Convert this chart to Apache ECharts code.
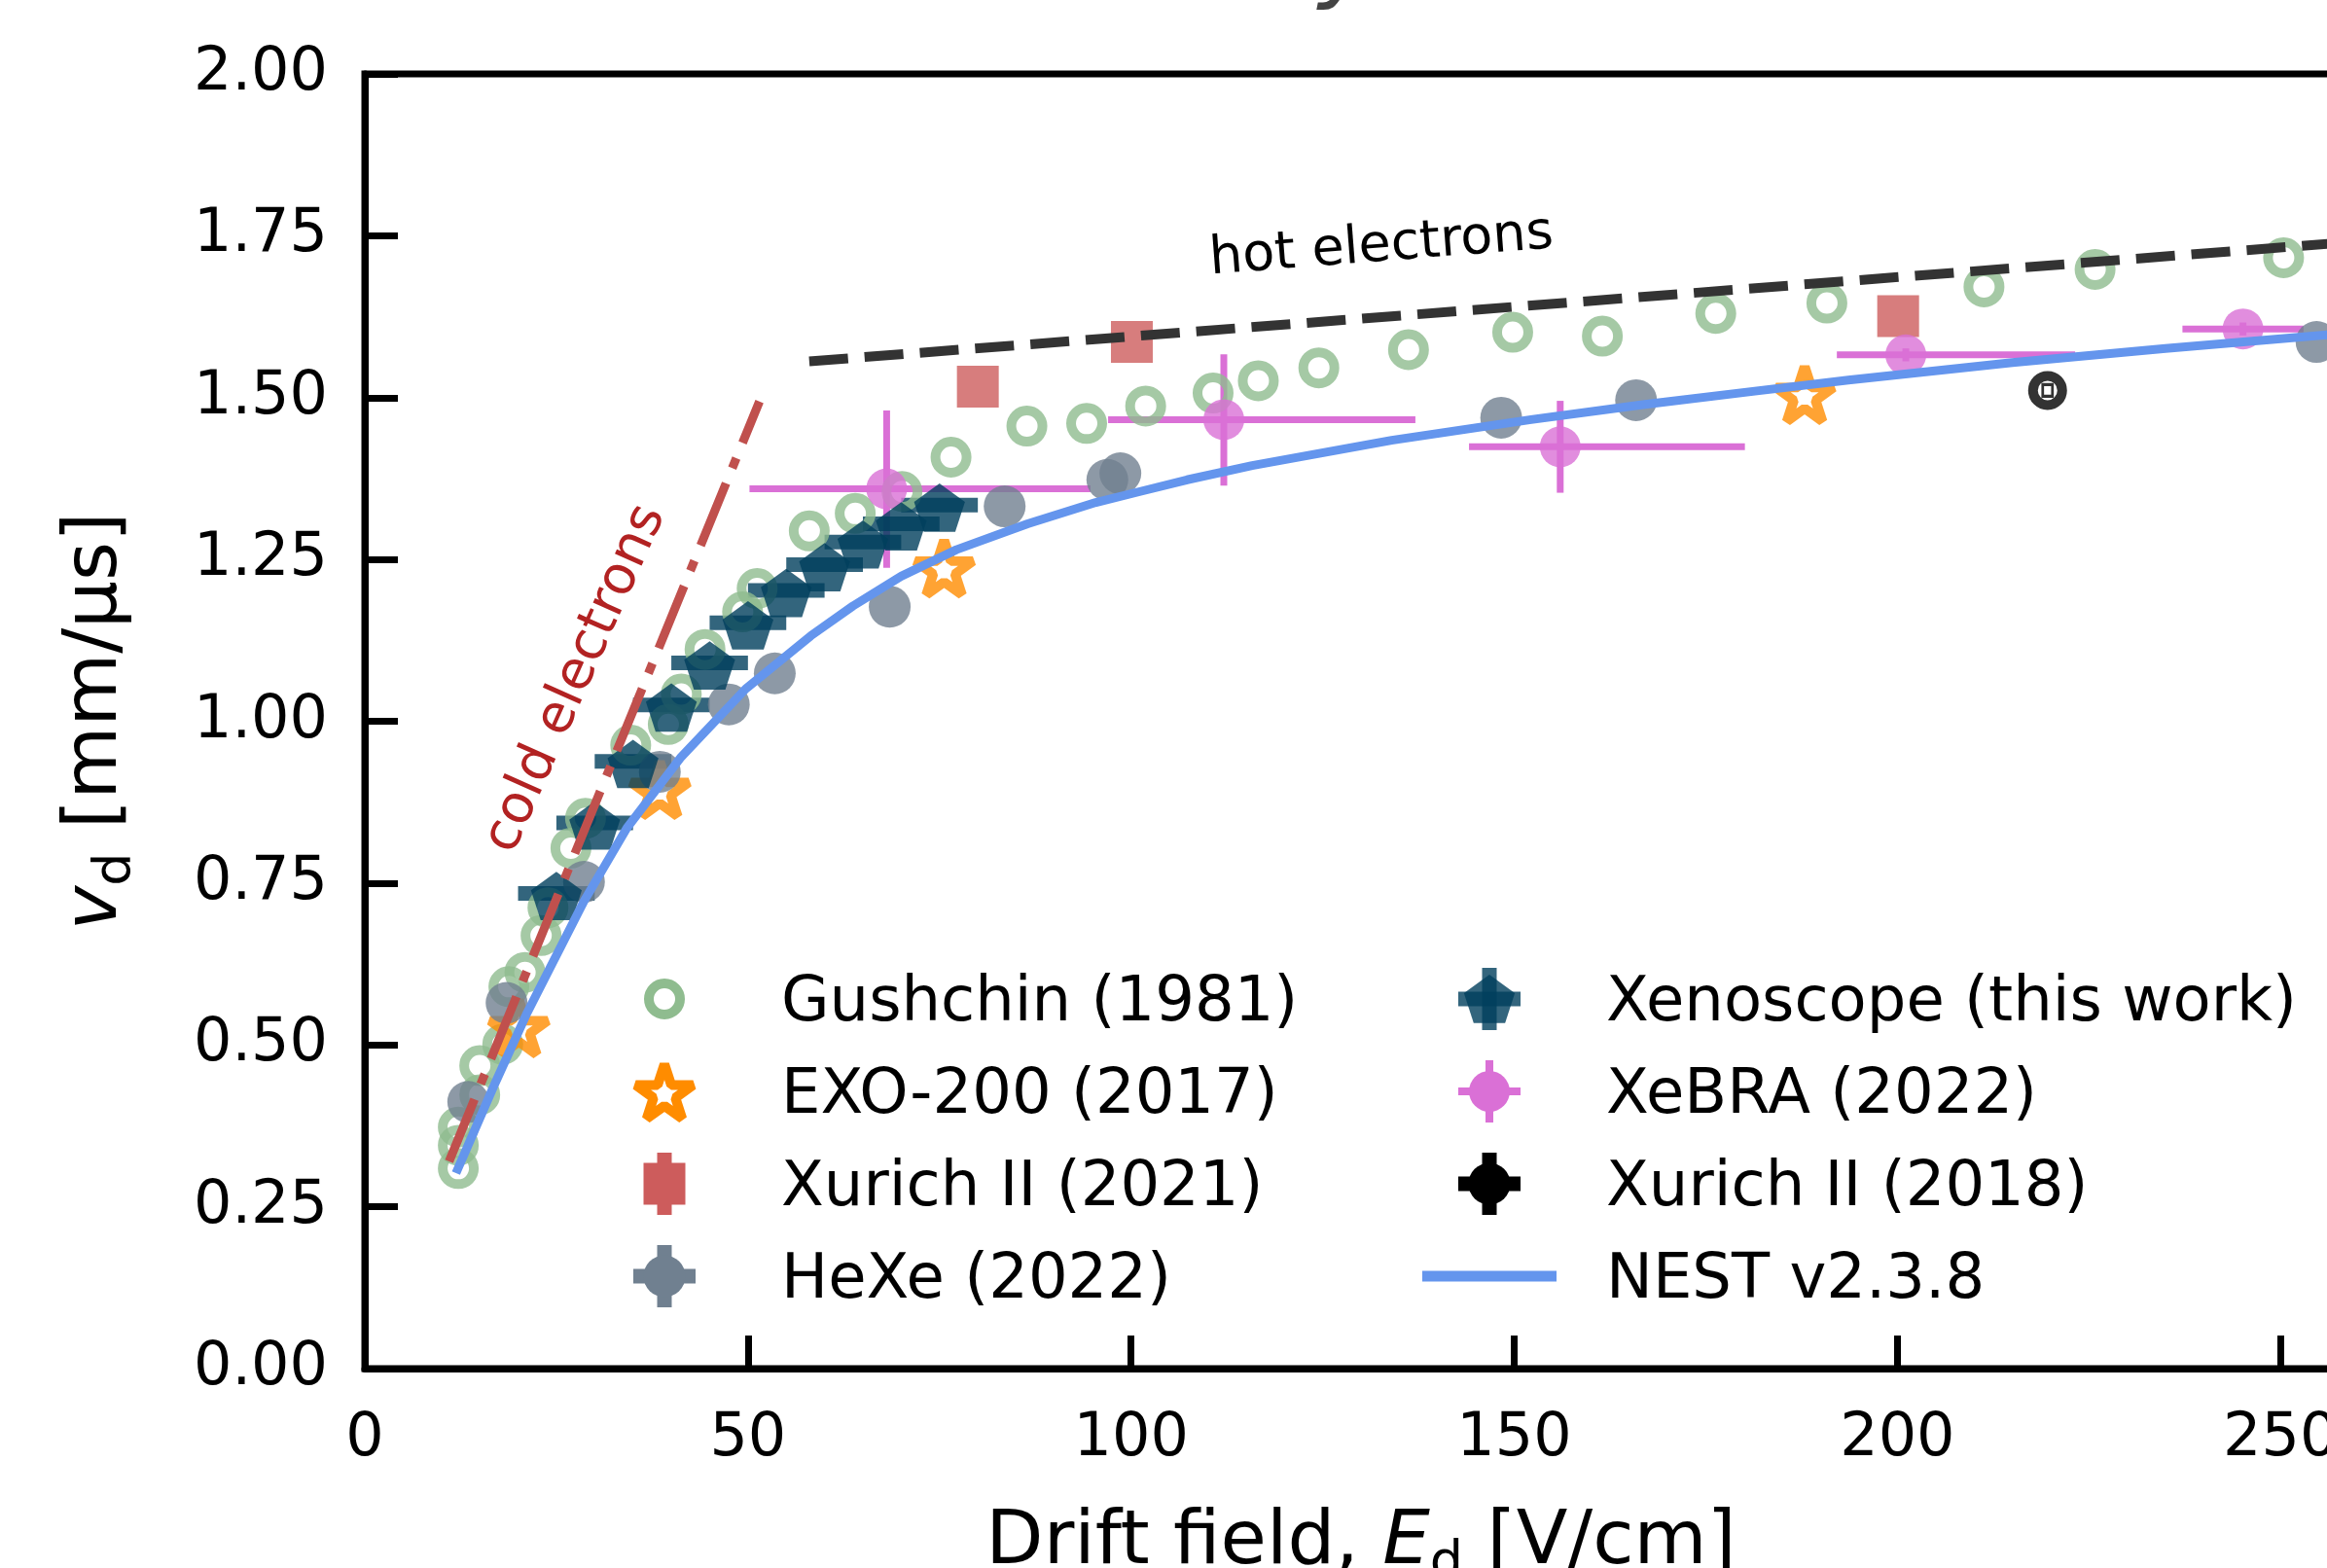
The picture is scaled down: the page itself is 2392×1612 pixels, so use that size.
<!DOCTYPE html>
<html>
<head>
<meta charset="utf-8">
<title>drift velocity</title>
<script src="https://cdn.jsdelivr.net/npm/echarts@6/dist/echarts.min.js"></script>
<style>
html, body { margin: 0; padding: 0; background: #fff; }
#chart_vd { width: 2392px; height: 1612px; }
</style>
</head>
<body>
<div id="chart_vd"></div>
<script>
/**********************************  data  *******************************************************/
// Gushchin (1981), open circles
var gushchinX = [12.2, 12.2, 12.2, 15.0, 15.0, 18.0, 18.8, 20.9, 23.0, 23.9, 26.9, 28.8, 34.7, 39.6, 41.3, 44.4, 49.3, 51.2,
                 58.0, 64.0, 70.1, 76.5, 86.4, 94.2, 101.9, 110.7, 116.6, 124.5, 136.2, 149.8, 161.5, 176.3, 190.8, 211.3, 225.8, 250.4];
var gushchinY = [0.309, 0.345, 0.373, 0.423, 0.468, 0.501, 0.590, 0.612, 0.669, 0.712, 0.804, 0.850, 0.963, 0.995, 1.042, 1.111, 1.169, 1.205,
                 1.294, 1.321, 1.355, 1.408, 1.456, 1.460, 1.487, 1.507, 1.526, 1.546, 1.574, 1.601, 1.595, 1.630, 1.646, 1.671, 1.698, 1.716];
// EXO-200 (2017), open stars
var exoX = [20.1, 38.5, 75.6, 187.9];
var exoY = [0.532, 0.900, 1.242, 1.510];
// Xurich II (2021), squares
var xurich21X = [80.0, 100.1, 200.1];
var xurich21Y = [1.517, 1.586, 1.626];
// HeXe (2022)
var hexeX = [13.5, 18.5, 28.6, 38.5, 47.5, 53.5, 68.5, 83.5, 96.9, 98.6, 148.3, 165.9, 254.7];
var hexeY = [0.412, 0.565, 0.752, 0.922, 1.026, 1.074, 1.177, 1.332, 1.373, 1.383, 1.469, 1.496, 1.586];
// Xenoscope (this work), pentagons with x error
var xenoX = [25, 30, 35, 40, 45, 50, 55, 60, 65, 70, 75];
var xenoY = [0.734, 0.843, 0.938, 1.025, 1.090, 1.152, 1.202, 1.242, 1.277, 1.305, 1.334];
var xenoXerr = [5, 5, 5, 5, 5, 5, 5, 5, 5, 5, 5];
// XeBRA (2022), asymmetric errors
var xebraX = [68.1, 112.1, 156.0, 201.1, 245.1];
var xebraY = [1.359, 1.466, 1.424, 1.566, 1.606];
var xebraXlo = [50.2, 97.0, 144.1, 192.1, 237.2];
var xebraXhi = [94.7, 137.1, 180.1, 223.2, 253.0];
var xebraYlo = [1.237, 1.364, 1.353, 1.556, 1.596];
var xebraYhi = [1.480, 1.567, 1.495, 1.576, 1.616];
// Xurich II (2018)
var xurich18X = [219.6];
var xurich18Y = [1.511];
// NEST v2.3.8 curve
var nestX = [11.9, 16.7, 21.2, 28.6, 34.2, 41.3, 49.7, 58.2, 63.7, 70.0, 77.2, 86.5, 95.4, 101.2, 107.3, 115.8,
             134.0, 152.2, 166.8, 181.4, 193.6, 215.0, 235.0, 260.0];
var nestY = [0.302, 0.433, 0.550, 0.722, 0.835, 0.945, 1.050, 1.132, 1.178, 1.224, 1.265, 1.305, 1.338, 1.355, 1.373, 1.395,
             1.434, 1.466, 1.489, 1.510, 1.527, 1.554, 1.576, 1.601];
// guide lines
var coldX = [11.0, 51.5];
var coldY = [0.320, 1.494];
var hotX = [58.0, 260.0];
var hotY = [1.556, 1.741];
// ticks
var xTicks = [0, 50, 100, 150, 200, 250];
var yTicks = [0, 0.25, 0.5, 0.75, 1.0, 1.25, 1.5, 1.75, 2.0];

/**********************************  helpers  ***********************************/
var FONT = 'DejaVu Sans';

function pairs(xs, ys) {
    return xs.map(function (x, i) { return [x, ys[i]]; });
}

// error bars through the axes, value = [x, y, xlo, xhi, ylo, yhi]
function barRenderer(lw, color, alpha) {
    return function (params, api) {
        var x = api.value(0), y = api.value(1);
        var p1 = api.coord([api.value(2), y]), p2 = api.coord([api.value(3), y]);
        var p3 = api.coord([x, api.value(4)]), p4 = api.coord([x, api.value(5)]);
        var st = {stroke: color, lineWidth: lw, opacity: alpha};
        return {
            type: 'group',
            children: [
                {type: 'line', shape: {x1: p1[0], y1: p1[1], x2: p2[0], y2: p2[1]}, style: st},
                {type: 'line', shape: {x1: p3[0], y1: p3[1], x2: p4[0], y2: p4[1]}, style: st}
            ]
        };
    };
}

var xenoBars = xenoX.map(function (x, i) {
    return [x, xenoY[i], x - xenoXerr[i], x + xenoXerr[i], xenoY[i], xenoY[i]];
});
var xebraBars = xebraX.map(function (x, i) {
    return [x, xebraY[i], xebraXlo[i], xebraXhi[i], xebraYlo[i], xebraYhi[i]];
});

var pentagonPath = 'path://M0,-100L95.11,-30.9L58.78,80.9L-58.78,80.9L-95.11,-30.9Z';
var starPath = 'path://M0,-100L22.45,-30.9L95.11,-30.9L36.33,11.8L58.78,80.9L0,38.2L-58.78,80.9L-36.33,11.8L-95.11,-30.9L-22.45,-30.9Z';

// legend icon outlines (star / pentagon)
function polyPts(cx, cy, R, rIn, n) {
    var pts = [];
    var k = rIn ? 2 * n : n;
    for (var i = 0; i < k; i++) {
        var a = -Math.PI / 2 + i * 2 * Math.PI / k;
        var r = (rIn && i % 2) ? rIn : R;
        pts.push([cx + r * Math.cos(a), cy + r * Math.sin(a)]);
    }
    return pts;
}
function crossBars(cx, cy, half, lw, color, alpha) {
    var st = {stroke: color, lineWidth: lw, opacity: alpha === undefined ? 1 : alpha};
    return [
        {type: 'line', shape: {x1: cx - half, y1: cy, x2: cx + half, y2: cy}, style: st},
        {type: 'line', shape: {x1: cx, y1: cy - half, x2: cx, y2: cy + half}, style: st}
    ];
}
function legendText(x, y, txt) {
    return {type: 'text', style: {text: txt, x: x, y: y + 5, fontSize: 64, fontFamily: FONT, fill: '#000', align: 'left', verticalAlign: 'middle'}};
}

var rows = [1027, 1122, 1217, 1312];
var c1 = 683, t1 = 803, c2 = 1531, t2 = 1651;
var legendEls = [];
// column 1
legendEls.push({type: 'circle', shape: {cx: c1, cy: rows[0], r: 16}, style: {fill: 'none', stroke: '#8fbc8f', lineWidth: 10}});
legendEls.push({type: 'polygon', shape: {points: polyPts(c1, rows[1] + 3, 31, 31 * 0.382, 5)}, style: {fill: 'none', stroke: '#ff8c00', lineWidth: 10, lineJoin: 'bevel'}});
legendEls.push({type: 'line', shape: {x1: c1, y1: rows[2] - 32, x2: c1, y2: rows[2] + 32}, style: {stroke: '#cd5c5c', lineWidth: 15}});
legendEls.push({type: 'rect', shape: {x: c1 - 21.5, y: rows[2] - 21.5, width: 43, height: 43}, style: {fill: '#cd5c5c'}});
legendEls = legendEls.concat(crossBars(c1, rows[3], 32, 15, '#708090'));
legendEls.push({type: 'circle', shape: {cx: c1, cy: rows[3], r: 21.5}, style: {fill: '#708090'}});
// column 2
legendEls = legendEls.concat(crossBars(c2, rows[0], 32, 15, '#003f5c', 0.8));
legendEls.push({type: 'polygon', shape: {points: polyPts(c2, rows[0] + 2.6, 27.5, 0, 5)}, style: {fill: '#003f5c', opacity: 0.8}});
legendEls = legendEls.concat(crossBars(c2, rows[1], 32, 8, '#da70d6'));
legendEls.push({type: 'circle', shape: {cx: c2, cy: rows[1], r: 21}, style: {fill: '#da70d6'}});
legendEls = legendEls.concat(crossBars(c2, rows[2], 32, 15, '#000'));
legendEls.push({type: 'circle', shape: {cx: c2, cy: rows[2], r: 21.5}, style: {fill: '#000'}});
legendEls.push({type: 'line', shape: {x1: c2 - 69, y1: rows[3], x2: c2 + 69, y2: rows[3]}, style: {stroke: '#6495ed', lineWidth: 11}});
// texts
legendEls.push(legendText(t1, rows[0], 'Gushchin (1981)'));
legendEls.push(legendText(t1, rows[1], 'EXO-200 (2017)'));
legendEls.push(legendText(t1, rows[2], 'Xurich II (2021)'));
legendEls.push(legendText(t1, rows[3], 'HeXe (2022)'));
legendEls.push(legendText(t2, rows[0], 'Xenoscope (this work)'));
legendEls.push(legendText(t2, rows[1], 'XeBRA (2022)'));
legendEls.push(legendText(t2, rows[2], 'Xurich II (2018)'));
legendEls.push(legendText(t2, rows[3], 'NEST v2.3.8'));
// annotations
legendEls.push({type: 'text', x: 1420, y: 254, rotation: 4.4 * Math.PI / 180,
    style: {text: 'hot electrons', x: 0, y: 0, fontSize: 54, fontFamily: FONT, fill: '#000', align: 'center', verticalAlign: 'middle'}});
legendEls.push({type: 'text', x: 592, y: 698, rotation: 66 * Math.PI / 180,
    style: {text: 'cold electrons', x: 0, y: 0, fontSize: 55, fontFamily: FONT, fill: '#b22222', align: 'center', verticalAlign: 'middle'}});
// title, mostly cut off at the top of the picture
legendEls.push({type: 'text', x: 1415, y: -37,
    style: {text: 'Electron drift velocity', x: 0, y: 0, fontSize: 100, fontStyle: 'italic', fontFamily: FONT, fill: '#444', align: 'right', verticalAlign: 'middle'}});

var richName = {
    i: {fontSize: 77, fontStyle: 'italic', fontFamily: FONT, color: '#000', height: 100, lineHeight: 100, verticalAlign: 'bottom'},
    s: {fontSize: 54, fontFamily: FONT, color: '#000', height: 58, verticalAlign: 'bottom'},
    n: {fontSize: 77, fontFamily: FONT, color: '#000', height: 100, lineHeight: 100, verticalAlign: 'bottom'}
};

/**********************************  chart  ***********************************/
var chart_vd = echarts.init(document.getElementById('chart_vd'), null, {renderer: 'canvas'});
var option_vd = {
    animation: false,
    backgroundColor: '#fff',
    grid: {
        left: 375, top: 76, width: 2048, height: 1331,
        outerBoundsMode: 'none', containLabel: false,
        show: true, borderColor: '#000', borderWidth: 7, backgroundColor: 'transparent'
    },
    xAxis: {
        type: 'value', min: 0, max: 260, interval: 50,
        name: '{n|Drift field, }{i|E}{s|d}{n| [V/cm]}',
        nameLocation: 'middle', nameGap: 130,
        nameTextStyle: {fontFamily: FONT, fontSize: 77, color: '#000', rich: richName},
        axisLine: {show: true, lineStyle: {color: '#000', width: 7}},
        axisTick: {show: true, inside: true, length: 34, lineStyle: {color: '#000', width: 7}},
        axisLabel: {
            show: true, margin: 42, fontFamily: FONT, fontSize: 62, color: '#000', showMaxLabel: false,
            formatter: function (v) { return xTicks.indexOf(v) >= 0 ? String(v) : ''; }
        },
        splitLine: {show: false}
    },
    yAxis: {
        type: 'value', min: 0, max: 2, interval: 0.25,
        name: '{i|v}{s|d}{n| [mm/μs]}',
        nameLocation: 'middle', nameRotate: 90, nameGap: 226,
        nameTextStyle: {fontFamily: FONT, fontSize: 77, color: '#000', rich: richName},
        axisLine: {show: true, lineStyle: {color: '#000', width: 7}},
        axisTick: {show: true, inside: true, length: 34, lineStyle: {color: '#000', width: 7}},
        axisLabel: {
            show: true, margin: 38, fontFamily: FONT, fontSize: 62, color: '#000',
            formatter: function (v) { return yTicks.indexOf(v) >= 0 ? v.toFixed(2) : ''; }
        },
        splitLine: {show: false}
    },
    graphic: {elements: legendEls},
    series: [
        {
            name: 'cold electrons', type: 'line', data: pairs(coldX, coldY),
            symbol: 'none', silent: true,
            lineStyle: {color: '#c0504d', width: 9, type: [69, 17, 11, 17]}
        },
        {
            name: 'hot electrons', type: 'line', data: pairs(hotX, hotY),
            symbol: 'none', silent: true,
            lineStyle: {color: '#333333', width: 10, type: [40, 17]}
        },
        {
            name: 'NEST v2.3.8', type: 'line', data: pairs(nestX, nestY),
            symbol: 'none', smooth: false,
            lineStyle: {color: '#6495ed', width: 9, join: 'round'}
        },
        {
            name: 'Gushchin (1981)', type: 'scatter', data: pairs(gushchinX, gushchinY),
            symbol: 'circle', symbolSize: 32,
            itemStyle: {color: 'rgba(0,0,0,0)', borderColor: '#8fbc8f', borderWidth: 10}
        },
        {
            name: 'EXO-200 (2017)', type: 'scatter', data: pairs(exoX, exoY),
            symbol: starPath, symbolSize: [59, 56.1], symbolOffset: [0, 3],
            itemStyle: {color: 'rgba(0,0,0,0)', borderColor: '#ff8c00', borderWidth: 10, borderJoin: 'bevel'}
        },
        {
            name: 'Xurich II (2021)', type: 'scatter', data: pairs(xurich21X, xurich21Y),
            symbol: 'rect', symbolSize: 43,
            itemStyle: {color: '#cd5c5c'}
        },
        {
            name: 'XeBRA bars', type: 'custom', data: xebraBars,
            encode: {x: 0, y: 1}, renderItem: barRenderer(7, '#da70d6', 1), silent: true
        },
        {
            name: 'XeBRA (2022)', type: 'scatter', data: pairs(xebraX, xebraY),
            symbol: 'circle', symbolSize: 42,
            itemStyle: {color: '#da70d6'}
        },
        {
            name: 'HeXe (2022)', type: 'scatter', data: pairs(hexeX, hexeY),
            symbol: 'circle', symbolSize: 43,
            itemStyle: {color: '#708090'}
        },
        {
            name: 'Xurich II (2018)', type: 'scatter', data: pairs(xurich18X, xurich18Y),
            symbol: 'circle', symbolSize: 30,
            itemStyle: {color: '#fff', borderColor: '#000', borderWidth: 10}
        },
        {
            name: 'Xurich II (2018) core', type: 'scatter', data: pairs(xurich18X, xurich18Y),
            symbol: 'rect', symbolSize: [10, 12], silent: true,
            itemStyle: {color: '#fff', borderColor: '#000', borderWidth: 3}
        },
        {
            name: 'Xenoscope bars', type: 'custom', data: xenoBars,
            encode: {x: 0, y: 1}, renderItem: barRenderer(15, '#003f5c', 0.8), silent: true
        },
        {
            name: 'Xenoscope (this work)', type: 'scatter', data: pairs(xenoX, xenoY),
            symbol: pentagonPath, symbolSize: [52.3, 49.7], symbolOffset: [0, 2.6],
            itemStyle: {color: '#003f5c', opacity: 0.8}
        }
    ]
};
chart_vd.setOption(option_vd);

window.addEventListener('resize', function () {
    chart_vd.resize();
});
</script>
</body>
</html>
